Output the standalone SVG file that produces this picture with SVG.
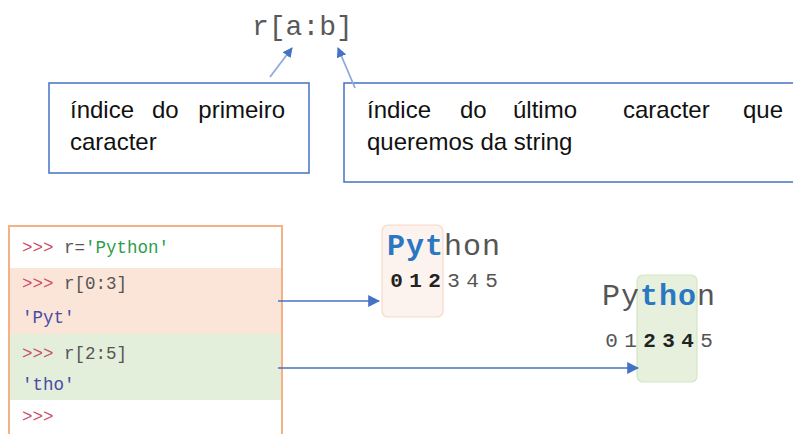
<svg xmlns="http://www.w3.org/2000/svg" width="793" height="434" viewBox="0 0 793 434">
<defs>
<marker id="ah" viewBox="0 0 10 10" refX="9" refY="5" markerWidth="10" markerHeight="10" markerUnits="userSpaceOnUse" orient="auto">
<path d="M0,0 L10,5 L0,10 Z" fill="#4472c4"/>
</marker>
<marker id="ah2" viewBox="0 0 10 10" refX="9" refY="5" markerWidth="12" markerHeight="12" markerUnits="userSpaceOnUse" orient="auto">
<path d="M0,0 L10,5 L0,10 Z" fill="#4472c4"/>
</marker>
<style>
.note{fill:#fff;stroke:#4472c4;stroke-width:1.5}
.nt{font-family:"Liberation Sans",Arial,sans-serif;font-size:24px;fill:#111}
.code{font-family:"Liberation Mono","Courier New",monospace;font-size:17.5px}
.pr{fill:#cc4d68}
.gr{fill:#555}
.grn{fill:#2e9e4e}
.pur{fill:#4a4aa6}
.big{font-family:"Liberation Mono","Courier New",monospace;font-size:30px}
.dig{font-family:"Liberation Mono","Courier New",monospace;font-size:21px;text-anchor:middle}
.hl{fill:#2a78c2;font-weight:bold}
.bd{fill:#222;font-weight:bold}
.conn{stroke:#4472c4;stroke-width:1.3;fill:none}
.conn2{stroke:#8eaadb;stroke-width:1.8;fill:none}
</style>
</defs>
<rect width="793" height="434" fill="#fff"/>

<g id="expr">
<text x="252" y="35" font-family="'Liberation Mono','Courier New',monospace" font-size="28" fill="#595959">r[a:b]</text>
</g>

<g id="note-first">
<rect class="note" x="49" y="83" width="260" height="90"/>
<text class="nt" y="118"><tspan x="70">índice</tspan><tspan x="152">do</tspan><tspan x="285" text-anchor="end">primeiro</tspan></text>
<text class="nt" x="70" y="150">caracter</text>
</g>

<g id="note-last">
<path class="note" d="M793,83 H344 V182 H793"/>
<text class="nt" y="118"><tspan x="367">índice</tspan><tspan x="460">do</tspan><tspan x="513">último</tspan><tspan x="623">caracter</tspan><tspan x="783" text-anchor="end">que</tspan></text>
<text class="nt" x="367" y="150">queremos da string</text>
</g>

<g id="console">
<rect x="9" y="226" width="273" height="210" fill="#fff" stroke="#f4b183" stroke-width="2"/>
<rect x="10" y="268" width="271" height="66" fill="#fbe5d8"/>
<rect x="10" y="334" width="271" height="66" fill="#e3eedb"/>
<text class="code" x="22" y="253"><tspan class="pr">&gt;&gt;&gt;</tspan><tspan class="gr"> r=</tspan><tspan class="grn">'Python'</tspan></text>
<text class="code" x="22" y="289"><tspan class="pr">&gt;&gt;&gt;</tspan><tspan class="gr"> r[0:3]</tspan></text>
<text class="code pur" x="22" y="323">'Pyt'</text>
<text class="code" x="22" y="359"><tspan class="pr">&gt;&gt;&gt;</tspan><tspan class="gr"> r[2:5]</tspan></text>
<text class="code pur" x="22" y="390">'tho'</text>
<text class="code pr" x="22" y="422">&gt;&gt;&gt;</text>
</g>

<g id="slice-pyt">
<rect x="382" y="225" width="61" height="92" rx="6" fill="#fdf3ee" stroke="#f9d8c6" stroke-width="1.2"/>
<text class="big" y="255"><tspan class="hl" x="387 406 425">Pyt</tspan><tspan class="gr" x="444 463 482">hon</tspan></text>
<text class="dig" y="287"><tspan class="bd" x="396.5 415.5 434.5">012</tspan><tspan class="gr" x="453.5 472.5 491.5">345</tspan></text>
</g>

<g id="slice-tho">
<rect x="637" y="275" width="60" height="107" rx="6" fill="#e7f0dd" stroke="#d5e5c5" stroke-width="1.2"/>
<text class="big" y="305"><tspan class="gr" x="602 621">Py</tspan><tspan class="hl" x="640 659 678">tho</tspan><tspan class="gr" x="697">n</tspan></text>
<text class="dig" y="347"><tspan class="gr" x="611.5 630.5">01</tspan><tspan class="bd" x="649.5 668.5 687.5">234</tspan><tspan class="gr" x="706.5">5</tspan></text>
</g>

<g id="connectors">
<line class="conn2" x1="270" y1="77" x2="292" y2="48" marker-end="url(#ah)"/>
<line class="conn2" x1="355" y1="88" x2="338" y2="48" marker-end="url(#ah)"/>
<line class="conn" x1="278" y1="301" x2="379" y2="301" marker-end="url(#ah2)"/>
<line class="conn" x1="278" y1="368" x2="638" y2="368" marker-end="url(#ah2)"/>
</g>
</svg>
